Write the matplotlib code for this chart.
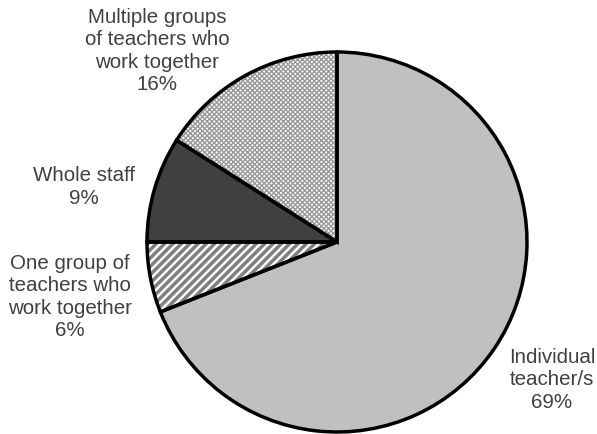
import matplotlib
matplotlib.use("Agg")
import matplotlib.pyplot as plt

labels = ["Individual\nteacher/s\n69%",
          "One group of\nteachers who\nwork together\n6%",
          "Whole staff\n9%",
          "Multiple groups\nof teachers who\nwork together\n16%"]
values = [69, 6, 9, 16]
fills = ["#c0c0c0", "white", "#404040", "white"]
hatches = [None, "////", None, "xxxxxxx"]
hatch_colors = ["#c0c0c0", "#808080", "#404040", "#999999"]
hatch_widths = [1.0, 2.5, 1.0, 1.0]

W, H = 597, 435
fig = plt.figure(figsize=(W / 100, H / 100), dpi=100)
ax = fig.add_axes([0, 0, 1, 1])

cx, cy, r = 337, H - 243, 190

# fill + hatch layer
for i in range(len(values)):
    with plt.rc_context({"hatch.linewidth": hatch_widths[i]}):
        wedges, _ = ax.pie(values, startangle=90, counterclock=False,
                           center=(cx, cy), radius=r, frame=True,
                           colors=["none"] * len(values))
        for j, w in enumerate(wedges):
            if j != i:
                w.remove()
            else:
                w.set_facecolor(fills[i])
                w.set_edgecolor(hatch_colors[i])
                w.set_linewidth(0)
                if hatches[i]:
                    w.set_hatch(hatches[i])

# outlines
wedges, _ = ax.pie(values, startangle=90, counterclock=False,
                   center=(cx, cy), radius=r, frame=True,
                   wedgeprops=dict(facecolor="none", edgecolor="black", linewidth=2.5))
ax.set_xlim(0, W)
ax.set_ylim(0, H)
ax.set_aspect("equal")
ax.axis("off")

text_pos = [(552, 380), (70, 297), (84, 187), (157, 51)]
for lab, (x, y) in zip(labels, text_pos):
    ax.text(x, H - y, lab, ha="center", va="center", fontsize=14.8,
            family="Liberation Sans", color="#404040", linespacing=1.24)

fig.savefig("out.png", dpi=100)
